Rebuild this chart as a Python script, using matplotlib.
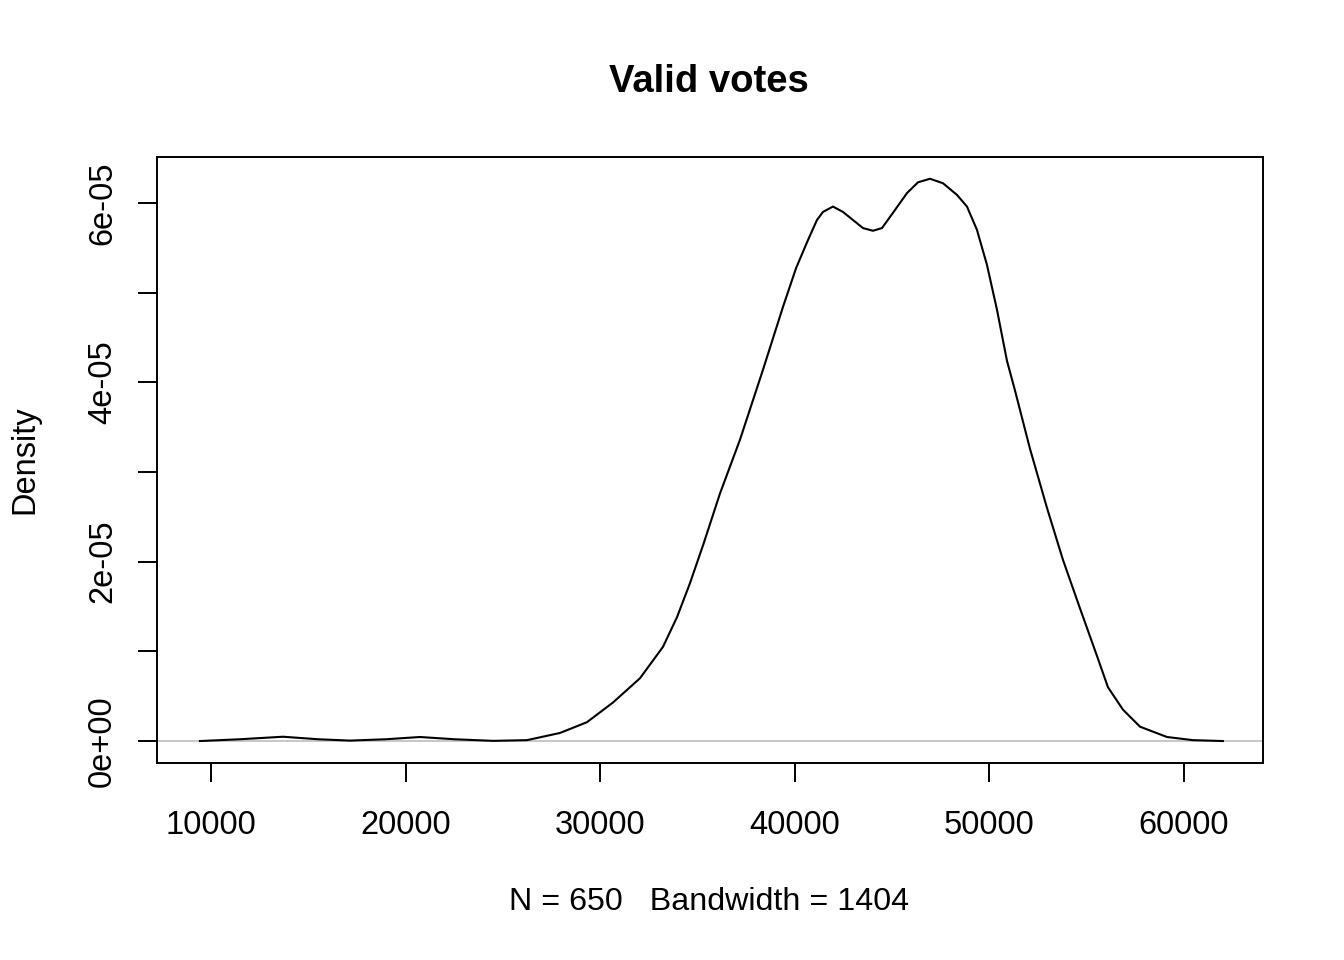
import matplotlib.pyplot as plt

# Courbe de densité (votes valides)
votes = [9435, 11500, 13700, 15500, 17140, 19000, 20740, 22500, 24500, 26240,
         27935, 29320, 30660, 32045, 33227, 33946, 34614, 35282, 36156, 37184,
         38366, 39393, 40061, 40626, 41140, 41449, 41963, 42477, 42991, 43505,
         44018, 44481, 45046, 45765, 46330, 46947, 47615, 48335, 48849, 49362,
         49876, 50390, 50904, 51315, 52086, 52960, 53782, 54656, 55528, 56094,
         56865, 57740, 59125, 60460, 62000]
density_e5 = [0.0, 0.02, 0.048, 0.02, 0.005, 0.02, 0.045, 0.02, 0.002, 0.01,
              0.09, 0.21, 0.43, 0.70, 1.05, 1.38, 1.76, 2.18, 2.76, 3.36,
              4.14, 4.84, 5.27, 5.56, 5.81, 5.90, 5.96, 5.90, 5.81, 5.72,
              5.69, 5.72, 5.89, 6.11, 6.23, 6.27, 6.22, 6.09, 5.96, 5.70,
              5.31, 4.81, 4.24, 3.91, 3.26, 2.60, 2.02, 1.48, 0.95, 0.60,
              0.35, 0.16, 0.045, 0.01, 0.0]
density = [d * 1e-5 for d in density_e5]

x_ticks = [10000, 20000, 30000, 40000, 50000, 60000]
y_ticks = [0, 1e-5, 2e-5, 3e-5, 4e-5, 5e-5, 6e-5]
y_labels = ["0e+00", "", "2e-05", "", "4e-05", "", "6e-05"]

plt.rcParams['font.family'] = ['Liberation Sans', 'DejaVu Sans']

fig = plt.figure(figsize=(13.44, 9.6), dpi=100)
ax = fig.add_axes([0.1168, 0.2052, 0.8229, 0.6313])

ax.axhline(0, color="#bebebe", lw=1.2, zorder=1)
ax.plot(votes, density, color="black", lw=1.5, zorder=2)

ax.set_xlim(7225, 64059)
ax.set_ylim(-0.245e-5, 6.513e-5)

ax.set_xticks(x_ticks)
ax.set_xticklabels([str(t) for t in x_ticks])
ax.set_yticks(y_ticks)
ax.set_yticklabels(y_labels, rotation=90, va="center")

ax.tick_params(axis="both", direction="out", length=14, width=1.4,
               labelsize=23.5)
ax.tick_params(axis="x", pad=20)
ax.tick_params(axis="y", pad=14)
for s in ax.spines.values():
    s.set_linewidth(1.4)

fig.text(0.5275, 1 - 82 / 960, "Valid votes", fontsize=27.5, fontweight="bold",
         ha="center", va="center")
fig.text(0.5275, 1 - 902 / 960, "N = 650   Bandwidth = 1404", fontsize=23.2,
         ha="center", va="center")
fig.text(25 / 1344, 1 - 460 / 960, "Density", fontsize=23.5, rotation=90,
         ha="center", va="center")

fig.savefig("out.png", dpi=100)
